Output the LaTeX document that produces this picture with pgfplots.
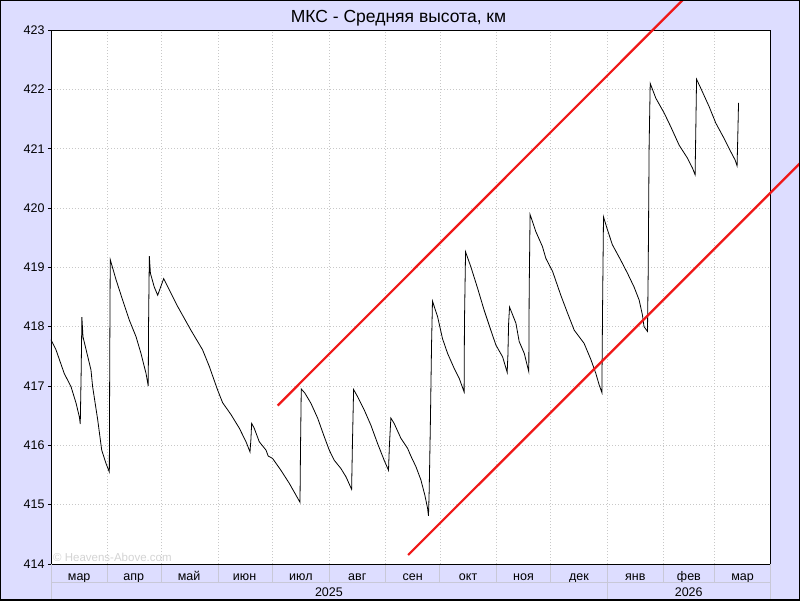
\documentclass[border=0pt]{standalone}
\usepackage{fontspec}
\setmainfont{Liberation Sans}
\usepackage{pgfplots}
\pgfplotsset{compat=1.18}
\definecolor{lav}{RGB}{221,221,255}
\definecolor{gridc}{RGB}{200,200,200}
\definecolor{sepc}{RGB}{200,200,215}
\definecolor{wm}{RGB}{212,212,212}
\definecolor{trend}{RGB}{240,24,24}
\begin{document}
\begin{tikzpicture}
\fill[lav] (0pt,0pt) rectangle (800pt,600pt);
\begin{axis}[
  name=ax,
  at={(51pt,36pt)}, anchor=south west,
  width=719.7pt, height=534pt, scale only axis,
  xmin=0, xmax=396, ymin=414, ymax=423,
  clip=false,
  axis background/.style={fill=white},
  axis line style={black, line width=0.9pt},
  /pgf/number format/assume math mode=true,
  /pgf/number format/1000 sep={},
  ytick={414,415,416,417,418,419,420,421,422,423},
  ytick pos=left, xtick pos=bottom,
  tick align=outside,
  major tick length=3pt,
  minor tick length=18pt,
  every major y tick/.append style={black, line width=0.8pt},
  every major x tick/.append style={draw=none},
  every minor x tick/.append style={sepc, solid, line width=0.9pt},
  yticklabel style={font=\fontsize{12.5}{14}\selectfont, text=black},
  xtick={15.5,45.5,76,106.5,137.5,168.5,199,229.5,260,290.5,321.5,351,380.5},
  xticklabels={мар,апр,май,июн,июл,авг,сен,окт,ноя,дек,янв,фев,мар},
  xticklabel style={font=\fontsize{12.5}{14}\selectfont, text=black, anchor=base, yshift=-13.5pt},
  minor xtick={31,61,92,122,153,184,214,245,275,306,337,365},
  ymajorgrids, xminorgrids,
  major grid style={gridc, dash pattern=on 1pt off 2pt, line width=0.8pt},
  minor grid style={gridc, dash pattern=on 1pt off 2pt, line width=0.8pt},
]
% data
\addplot[black, line width=0.8pt] coordinates {
(0,417.78) (2.75,417.61) (7.3,417.21) (11,416.99) (13.8,416.71) (15.6,416.48) (16.1,416.36)
(16.6,417.24) (17.0,418.16) (17.6,417.83) (22,417.27) (22.9,416.99) (25.7,416.43) (27.9,415.92)
(30.2,415.70) (32.1,415.55) (32.3,417.33) (32.6,419.13) (35.8,418.79) (39.4,418.45) (43.1,418.11)
(46.8,417.83) (49.5,417.55) (52.3,417.21) (53.5,417.00) (53.7,418.08) (54.1,419.19) (54.7,418.90)
(56.8,418.67) (58.7,418.53) (62,418.81) (65.1,418.62) (69.7,418.34) (77,417.94) (83.4,417.61)
(87.1,417.33) (91.7,416.93) (94.4,416.72) (99,416.52) (103.6,416.29) (107.3,416.06) (109.5,415.89)
(110.0,416.10) (110.4,416.37) (111.8,416.29) (114.6,416.06) (118.3,415.92) (119.5,415.82)
(121.9,415.78) (126.5,415.58) (131.1,415.36) (134.8,415.16) (137,415.04) (137.3,415.99)
(137.7,416.95) (139.7,416.88) (143,416.71) (146.7,416.46) (150.3,416.15) (153.1,415.92)
(155.8,415.75) (159.5,415.61) (162.3,415.47) (165.4,415.26) (165.9,416.09) (166.5,416.94)
(168.7,416.82) (172.3,416.60) (176,416.34) (179.7,416.03) (183.3,415.75) (185.7,415.58)
(186.2,416.0) (187,416.46) (188.8,416.37) (192.5,416.12) (196.2,415.95) (198,415.82)
(200.8,415.64) (203.5,415.42) (205.7,415.16) (207.2,414.94) (207.7,414.81) (208.1,415.25)
(208.7,416.29) (209.4,417.72) (209.9,418.43) (212.7,418.17) (215.4,417.80) (218.2,417.55)
(221.8,417.30) (224.6,417.13) (227.3,416.90) (227.5,418.08) (228.1,419.26) (231,419.01)
(234.7,418.65) (238.3,418.28) (242,417.94) (244.8,417.69) (248.5,417.49) (251,417.23)
(251.4,417.52) (251.8,418.06) (252.3,418.33) (255.8,418.06) (257.6,417.75) (260.4,417.55)
(262.9,417.24) (263.1,418.56) (263.6,419.89) (266.8,419.60) (270.4,419.35) (272.3,419.15)
(276,418.93) (280.5,418.53) (284.2,418.23) (287.9,417.94) (293.3,417.72) (297,417.45)
(299.8,417.21) (301.6,417.02) (303.1,416.89) (303.5,418.36) (304,419.85) (306.2,419.63)
(308.9,419.38) (313.5,419.12) (317.2,418.90) (320.8,418.67) (323.6,418.45) (325.4,418.20)
(326.3,418.00) (328.2,417.92) (328.6,418.95) (329.1,421.04) (329.7,422.10) (332.8,421.85)
(337.4,421.60) (341,421.37) (345.6,421.06) (350.2,420.84) (353,420.67) (354.4,420.56)
(354.8,421.34) (355.2,422.17) (357.5,422.02) (362.1,421.71) (365.8,421.43) (370.4,421.17)
(374,420.95) (376.4,420.81) (377.5,420.71) (377.9,421.23) (378.3,421.77)
};
% trend channel
\addplot[trend, line width=2.2pt] coordinates {(124.7,416.67) (347.6,423.506)};
\addplot[trend, line width=2.2pt] coordinates {(196.5,414.151) (412.0,420.75)};
\end{axis}
% watermark
\node[anchor=base west, font=\fontsize{11.5}{13}\selectfont, text=wm, inner sep=0pt] at (53pt,39pt) {© Heavens-Above.com};
% band separators
\draw[sepc, line width=0.9pt] (51pt,18pt) -- (770.7pt,18pt);
\draw[sepc, line width=0.9pt] (51pt,36pt) -- (51pt,1pt);
\draw[sepc, line width=0.9pt] (607.1pt,18pt) -- (607.1pt,1pt);
\draw[sepc, line width=0.9pt] (770.7pt,36pt) -- (770.7pt,1pt);
\node[anchor=base, font=\fontsize{12.5}{14}\selectfont, inner sep=0pt] at (328.9pt,3.5pt) {2025};
\node[anchor=base, font=\fontsize{12.5}{14}\selectfont, inner sep=0pt] at (688.7pt,3.5pt) {2026};
\node[anchor=base, font=\fontsize{17.5}{19}\selectfont, inner sep=0pt] at (398.5pt,577.5pt) {МКС - Средняя высота, км};
\draw[black, line width=2pt] (0pt,0pt) rectangle (800pt,600pt);
\pgfresetboundingbox
\useasboundingbox (0pt,0pt) rectangle (800pt,600pt);
\end{tikzpicture}
\end{document}
